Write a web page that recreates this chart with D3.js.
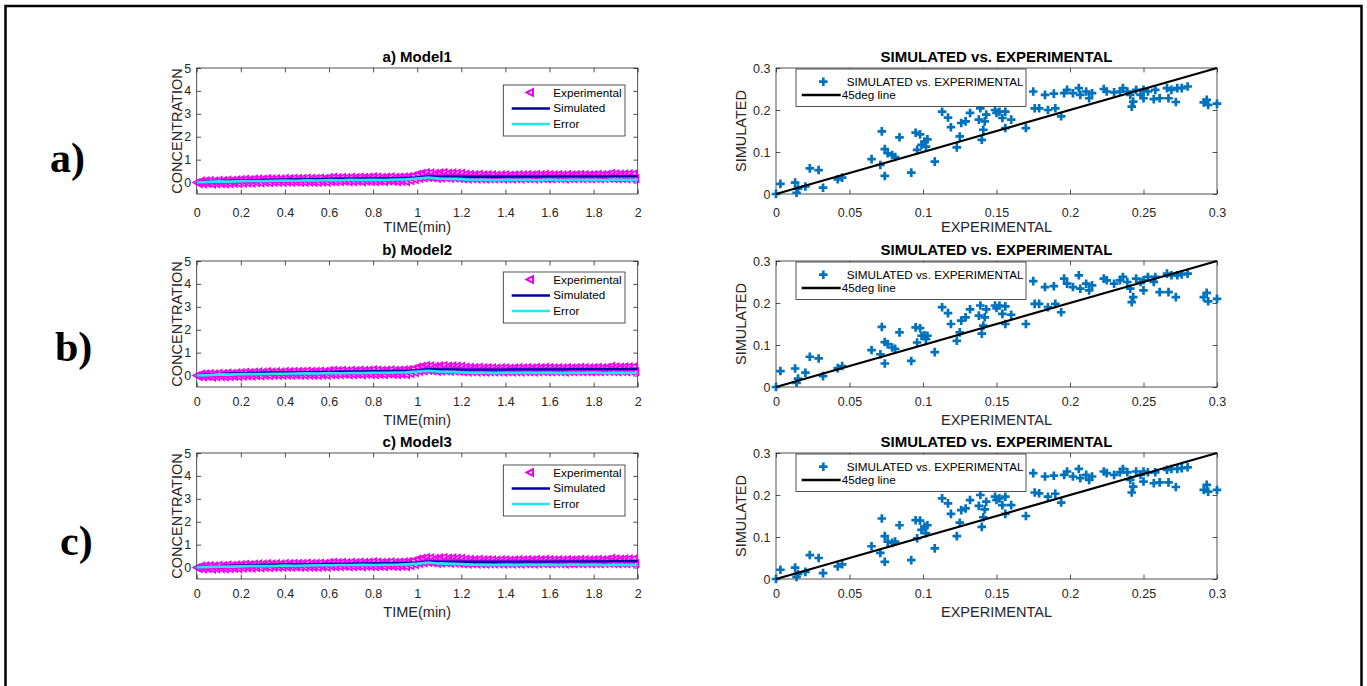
<!DOCTYPE html>
<html>
<head>
<meta charset="utf-8">
<script src="https://cdn.jsdelivr.net/npm/d3@7"></script>
<style>
  body { margin: 0; background: #fff; }
  svg text { font-family: "Liberation Sans", Arial, sans-serif; }
</style>
</head>
<body>
<div id="chart"></div>
<script>

/* DATA */

const modelTitles = ["a) Model1", "b) Model2", "c) Model3"];
const rowLetters = ["a)", "b)", "c)"];
const scatterTitle = "SIMULATED vs. EXPERIMENTAL";
const legendTime = ["Experimental", "Simulated", "Error"];
const legendScatter = ["SIMULATED vs. EXPERIMENTAL", "45deg line"];

const timeTicks = [0, 0.2, 0.4, 0.6, 0.8, 1, 1.2, 1.4, 1.6, 1.8, 2];
const concTicks = [0, 1, 2, 3, 4, 5];
const expTicks = [0, 0.05, 0.1, 0.15, 0.2, 0.25, 0.3];
const simTicks = [0, 0.1, 0.2, 0.3];

// experimental concentration, sampled every 0.01 min
const expTime = [
  0.00,0.01,0.02,0.03,0.04,0.05,0.06,0.07,0.08,0.09,0.10,0.11,0.12,0.13,0.14,0.15,0.16,0.17,0.18,0.19,
  0.20,0.21,0.22,0.23,0.24,0.25,0.26,0.27,0.28,0.29,0.30,0.31,0.32,0.33,0.34,0.35,0.36,0.37,0.38,0.39,
  0.40,0.41,0.42,0.43,0.44,0.45,0.46,0.47,0.48,0.49,0.50,0.51,0.52,0.53,0.54,0.55,0.56,0.57,0.58,0.59,
  0.60,0.61,0.62,0.63,0.64,0.65,0.66,0.67,0.68,0.69,0.70,0.71,0.72,0.73,0.74,0.75,0.76,0.77,0.78,0.79,
  0.80,0.81,0.82,0.83,0.84,0.85,0.86,0.87,0.88,0.89,0.90,0.91,0.92,0.93,0.94,0.95,0.96,0.97,0.98,0.99,
  1.00,1.01,1.02,1.03,1.04,1.05,1.06,1.07,1.08,1.09,1.10,1.11,1.12,1.13,1.14,1.15,1.16,1.17,1.18,1.19,
  1.20,1.21,1.22,1.23,1.24,1.25,1.26,1.27,1.28,1.29,1.30,1.31,1.32,1.33,1.34,1.35,1.36,1.37,1.38,1.39,
  1.40,1.41,1.42,1.43,1.44,1.45,1.46,1.47,1.48,1.49,1.50,1.51,1.52,1.53,1.54,1.55,1.56,1.57,1.58,1.59,
  1.60,1.61,1.62,1.63,1.64,1.65,1.66,1.67,1.68,1.69,1.70,1.71,1.72,1.73,1.74,1.75,1.76,1.77,1.78,1.79,
  1.80,1.81,1.82,1.83,1.84,1.85,1.86,1.87,1.88,1.89,1.90,1.91,1.92,1.93,1.94,1.95,1.96,1.97,1.98,1.99
];
const experimental = [
  0.00,-0.05,0.07,-0.06,0.08,-0.05,0.09,-0.07,0.08,-0.06,0.10,-0.05,0.09,-0.06,0.11,-0.05,0.10,-0.04,0.12,-0.05,
  0.13,-0.03,0.14,-0.02,0.13,-0.03,0.15,-0.01,0.16,-0.02,0.15,0.00,0.17,-0.01,0.16,0.01,0.17,0.00,0.16,0.01,
  0.18,0.02,0.17,0.01,0.19,0.02,0.18,0.00,0.19,0.01,0.20,0.02,0.18,0.01,0.19,0.00,0.20,0.02,0.19,0.01,
  0.22,0.04,0.23,0.03,0.22,0.04,0.23,0.05,0.22,0.03,0.23,0.04,0.22,0.05,0.24,0.03,0.23,0.05,0.24,0.04,
  0.25,0.04,0.24,0.05,0.23,0.04,0.24,0.06,0.25,0.05,0.23,0.04,0.24,0.05,0.25,0.04,0.26,0.08,0.29,0.12,
  0.36,0.18,0.40,0.20,0.44,0.22,0.42,0.20,0.40,0.18,0.42,0.19,0.44,0.20,0.41,0.18,0.42,0.19,0.41,0.18,
  0.40,0.16,0.37,0.15,0.36,0.16,0.35,0.15,0.36,0.16,0.34,0.15,0.35,0.16,0.34,0.15,0.33,0.16,0.34,0.15,
  0.34,0.16,0.33,0.15,0.34,0.16,0.35,0.15,0.34,0.17,0.35,0.16,0.34,0.15,0.36,0.16,0.35,0.17,0.36,0.16,
  0.35,0.16,0.34,0.17,0.35,0.16,0.34,0.15,0.35,0.17,0.34,0.16,0.35,0.17,0.36,0.16,0.35,0.17,0.34,0.16,
  0.35,0.17,0.36,0.16,0.35,0.17,0.36,0.18,0.40,0.17,0.38,0.16,0.37,0.17,0.38,0.16,0.38,0.18,0.37,0.17
];

// simulated and error curves, every 0.05 min
const simTime = [
  0,0.05,0.1,0.15,0.2,0.25,0.3,0.35,0.4,0.45,0.5,0.55,0.6,0.65,0.7,0.75,0.8,0.85,0.9,0.95,
  1,1.05,1.1,1.15,1.2,1.25,1.3,1.35,1.4,1.45,1.5,1.55,1.6,1.65,1.7,1.75,1.8,1.85,1.9,1.95,2
];
const simModel1 = [
  0.00,0.05,0.07,0.08,0.09,0.10,0.11,0.12,0.13,0.14,0.15,0.15,0.16,0.17,0.17,0.18,0.18,0.19,0.19,0.20,
  0.22,0.28,0.26,0.27,0.26,0.25,0.25,0.25,0.26,0.26,0.26,0.26,0.27,0.27,0.27,0.27,0.27,0.27,0.28,0.28,0.28
];
const simModel2 = [
  0.00,0.05,0.07,0.09,0.10,0.11,0.12,0.13,0.14,0.14,0.15,0.16,0.16,0.17,0.18,0.18,0.19,0.19,0.20,0.20,
  0.23,0.28,0.27,0.27,0.26,0.26,0.26,0.26,0.26,0.27,0.27,0.27,0.27,0.27,0.28,0.28,0.28,0.28,0.28,0.28,0.29
];
const simModel3 = [
  0.00,0.04,0.06,0.08,0.09,0.10,0.11,0.12,0.13,0.13,0.14,0.15,0.16,0.16,0.17,0.18,0.18,0.19,0.19,0.20,
  0.22,0.27,0.26,0.26,0.25,0.25,0.25,0.25,0.26,0.26,0.26,0.26,0.26,0.27,0.27,0.27,0.27,0.27,0.28,0.28,0.28
];
const errModel1 = [
  0.00,0.03,0.05,0.04,0.06,0.07,0.06,0.08,0.09,0.08,0.10,0.09,0.11,0.10,0.12,0.11,0.12,0.11,0.13,0.14,
  0.18,0.22,0.17,0.16,0.15,0.11,0.12,0.10,0.12,0.11,0.12,0.10,0.13,0.10,0.12,0.11,0.12,0.10,0.13,0.11,0.12
];
const errModel2 = [
  0.00,0.02,0.05,0.04,0.06,0.06,0.07,0.08,0.08,0.09,0.10,0.09,0.11,0.10,0.11,0.11,0.12,0.12,0.13,0.14,
  0.18,0.21,0.17,0.16,0.14,0.11,0.12,0.10,0.12,0.11,0.12,0.11,0.12,0.10,0.12,0.11,0.13,0.10,0.12,0.11,0.12
];
const errModel3 = [
  0.00,0.03,0.04,0.04,0.05,0.07,0.06,0.07,0.09,0.08,0.09,0.10,0.10,0.11,0.11,0.12,0.11,0.12,0.12,0.14,
  0.17,0.22,0.18,0.16,0.15,0.12,0.11,0.10,0.12,0.10,0.12,0.11,0.12,0.10,0.13,0.11,0.12,0.10,0.12,0.11,0.12
];

// scatter: experimental value (shared) vs simulated value per model
const scatterExp = [
  0.000,0.003,0.013,0.014,0.015,0.020,0.023,0.029,0.032,0.042,
  0.045,0.065,0.072,0.071,0.074,0.074,0.076,0.079,0.081,0.084,
  0.092,0.095,0.096,0.098,0.099,0.101,0.103,0.102,0.108,0.113,
  0.117,0.119,0.123,0.125,0.126,0.129,0.132,0.138,0.139,0.140,
  0.141,0.142,0.143,0.149,0.150,0.152,0.154,0.156,0.156,0.160,
  0.170,0.175,0.179,0.183,0.185,0.189,0.190,0.194,0.196,0.198,
  0.202,0.206,0.207,0.211,0.213,0.215,0.223,0.225,0.230,0.234,
  0.236,0.239,0.241,0.242,0.243,0.248,0.250,0.253,0.257,0.258,
  0.261,0.266,0.267,0.269,0.272,0.273,0.276,0.280,0.291,0.293,
  0.294,0.300,0.250,0.176,0.245
];
const scatterSim1 = [
  0.000,0.024,0.027,0.003,0.013,0.018,0.061,0.057,0.015,0.035,
  0.039,0.083,0.149,0.069,0.043,0.107,0.097,0.093,0.088,0.135,
  0.051,0.146,0.105,0.142,0.117,0.125,0.130,0.113,0.077,0.196,
  0.182,0.159,0.111,0.137,0.169,0.173,0.193,0.177,0.204,0.129,
  0.153,0.173,0.189,0.200,0.193,0.196,0.181,0.196,0.157,0.177,
  0.157,0.244,0.204,0.236,0.200,0.239,0.204,0.185,0.240,0.248,
  0.240,0.252,0.236,0.244,0.228,0.240,0.250,0.244,0.242,0.244,
  0.252,0.244,0.236,0.208,0.220,0.236,0.228,0.244,0.226,0.248,
  0.228,0.252,0.228,0.248,0.219,0.252,0.252,0.256,0.218,0.224,
  0.212,0.215,0.248,0.204,0.248
];
const scatterSim2 = [
  0.000,0.038,0.044,0.010,0.020,0.034,0.072,0.068,0.026,0.045,
  0.050,0.088,0.143,0.078,0.056,0.107,0.102,0.094,0.091,0.130,
  0.062,0.142,0.106,0.140,0.122,0.123,0.122,0.114,0.083,0.190,
  0.176,0.150,0.110,0.130,0.158,0.166,0.185,0.170,0.194,0.127,
  0.146,0.166,0.185,0.194,0.188,0.194,0.174,0.192,0.150,0.172,
  0.150,0.252,0.198,0.238,0.190,0.240,0.198,0.178,0.258,0.246,
  0.238,0.266,0.234,0.246,0.230,0.242,0.258,0.254,0.246,0.254,
  0.262,0.250,0.234,0.202,0.214,0.250,0.230,0.262,0.250,0.262,
  0.226,0.270,0.226,0.266,0.214,0.266,0.268,0.270,0.214,0.224,
  0.204,0.210,0.254,0.198,0.258
];
const scatterSim3 = [
  0.000,0.022,0.027,0.005,0.012,0.017,0.057,0.050,0.014,0.030,
  0.035,0.078,0.144,0.062,0.041,0.102,0.089,0.086,0.089,0.128,
  0.045,0.140,0.097,0.139,0.117,0.125,0.128,0.109,0.073,0.192,
  0.180,0.155,0.102,0.134,0.164,0.168,0.188,0.174,0.200,0.124,
  0.147,0.166,0.184,0.196,0.188,0.192,0.176,0.196,0.155,0.176,
  0.150,0.252,0.204,0.244,0.196,0.246,0.203,0.182,0.248,0.256,
  0.244,0.262,0.240,0.248,0.236,0.244,0.256,0.252,0.248,0.254,
  0.262,0.254,0.236,0.206,0.220,0.248,0.232,0.254,0.228,0.254,
  0.230,0.260,0.230,0.262,0.219,0.262,0.264,0.266,0.212,0.224,
  0.208,0.212,0.256,0.206,0.256
];
const diagLine = [0, 0.3];

const simModels = [simModel1, simModel2, simModel3];
const errModels = [errModel1, errModel2, errModel3];
const scatterSims = [scatterSim1, scatterSim2, scatterSim3];


/* LAYOUT */
const width = 1367;
const height = 686;
const leftX = 196.7;
const rightX = 776;
const panelW = 441;
const panelH = 126;
const tickLen = 4.4;
const axisColor = "#262626";
const tickFont = 12.5;
const labelFont = 14.5;
const titleFont = 15;
const legendFont = 11.7;

const rows = [
  { top: 68, tickGap: 19, legendTop: 85, letterX: 50, letterY: 172 },
  { top: 261, tickGap: 15, legendTop: 272, letterX: 55, letterY: 361 },
  { top: 453, tickGap: 14.5, legendTop: 465, letterX: 60, letterY: 555 }
];

const svg = d3.select("#chart")
  .append("svg")
  .attr("width", width)
  .attr("height", height)
  .style("background-color", "#fff");

// outer frame of the figure
svg.append("rect")
  .attr("x", 5.5)
  .attr("y", 6)
  .attr("width", 1356)
  .attr("height", 760)
  .attr("fill", "none")
  .attr("stroke", "#000")
  .attr("stroke-width", 2.5);

const triLeft = "M-3.4,0L3,-3.4L3,3.4Z";
const plusMark = "M-4.3,0H4.3M0,-4.3V4.3";

function styleAxis(sel) {
  sel.select(".domain").remove();
  sel.selectAll(".tick line").attr("stroke", axisColor).attr("stroke-width", 0.8);
  sel.selectAll(".tick text")
    .attr("fill", axisColor)
    .attr("font-size", tickFont)
    .attr("font-family", "Liberation Sans, Arial, sans-serif");
}

function drawFrame(g, x, y, xTicks, yTicks, tickGap) {
  const w = x.range()[1];
  const h = y.range()[0];

  g.append("g")
    .attr("transform", "translate(0," + h + ")")
    .call(d3.axisBottom(x).tickValues(xTicks).tickSizeInner(-tickLen).tickSizeOuter(0)
      .tickPadding(tickGap - 0.358 * tickFont).tickFormat(d => d))
    .call(styleAxis);

  g.append("g")
    .call(d3.axisTop(x).tickValues(xTicks).tickSizeInner(-tickLen).tickSizeOuter(0).tickFormat(""))
    .call(styleAxis);

  g.append("g")
    .call(d3.axisLeft(y).tickValues(yTicks).tickSizeInner(-tickLen).tickSizeOuter(0)
      .tickPadding(5.5).tickFormat(d => d))
    .call(styleAxis);

  g.append("g")
    .attr("transform", "translate(" + w + ",0)")
    .call(d3.axisRight(y).tickValues(yTicks).tickSizeInner(-tickLen).tickSizeOuter(0).tickFormat(""))
    .call(styleAxis);

  g.append("rect")
    .attr("width", w)
    .attr("height", h)
    .attr("fill", "none")
    .attr("stroke", axisColor)
    .attr("stroke-width", 0.8);
}

function addTitles(g, title, xLabel, yLabel, yLabelX) {
  g.append("text")
    .attr("x", panelW / 2)
    .attr("y", -11)
    .attr("dy", "0.35em")
    .attr("text-anchor", "middle")
    .attr("font-weight", "bold")
    .attr("font-size", titleFont)
    .attr("fill", "#000")
    .text(title);

  g.append("text")
    .attr("x", panelW / 2)
    .attr("y", panelH + 33)
    .attr("dy", "0.35em")
    .attr("text-anchor", "middle")
    .attr("font-size", labelFont)
    .attr("fill", axisColor)
    .text(xLabel);

  // rotated label, centre line at x = yLabelX
  g.append("text")
    .attr("transform", "translate(" + yLabelX + "," + (panelH / 2) + ") rotate(-90)")
    .attr("dy", "0.36em")
    .attr("text-anchor", "middle")
    .attr("font-size", labelFont)
    .attr("fill", axisColor)
    .text(yLabel);
}


/* PANELS */

rows.forEach((row, i) => {

  // row letter
  svg.append("text")
    .attr("x", row.letterX)
    .attr("y", row.letterY)
    .style("font-family", "'Liberation Serif', 'Times New Roman', serif")
    .attr("font-weight", "bold")
    .attr("font-size", 42)
    .text(rowLetters[i]);

  //TIME SERIES==============================================================
  const g1 = svg.append("g").attr("transform", "translate(" + leftX + "," + row.top + ")");

  const xTime = d3.scaleLinear().domain([0, 2]).range([0, panelW]);
  const yConc = d3.scaleLinear().domain([-0.5, 5]).range([panelH, 0]);

  drawFrame(g1, xTime, yConc, timeTicks, concTicks, row.tickGap);

  g1.selectAll(".exp")
    .data(expTime.map((t, j) => [t, experimental[j]]))
    .join("path")
    .attr("class", "exp")
    .attr("d", triLeft)
    .attr("transform", d => "translate(" + xTime(d[0]) + "," + yConc(d[1]) + ")")
    .attr("fill", "none")
    .attr("stroke", "#F000F0")
    .attr("stroke-width", 1.7);

  const timeLine = d3.line().x(d => xTime(d[0])).y(d => yConc(d[1]));

  g1.append("path")
    .datum(simTime.map((t, j) => [t, simModels[i][j]]))
    .attr("d", timeLine)
    .attr("fill", "none")
    .attr("stroke", "#0000A8")
    .attr("stroke-width", 2.4);

  g1.append("path")
    .datum(simTime.map((t, j) => [t, errModels[i][j]]))
    .attr("d", timeLine)
    .attr("fill", "none")
    .attr("stroke", "#22E6F2")
    .attr("stroke-width", 2.6);

  // legend
  const lg = g1.append("g").attr("transform", "translate(306.6," + (row.legendTop - row.top) + ")");
  lg.append("rect")
    .attr("width", 121.7)
    .attr("height", 51)
    .attr("fill", "#fff")
    .attr("stroke", axisColor)
    .attr("stroke-width", 0.8);
  lg.append("path")
    .attr("d", triLeft)
    .attr("transform", "translate(26.7,7.5)")
    .attr("fill", "none")
    .attr("stroke", "#F000F0")
    .attr("stroke-width", 2);
  lg.append("line").attr("x1", 8.4).attr("x2", 46.7).attr("y1", 23.5).attr("y2", 23.5)
    .attr("stroke", "#0000A8").attr("stroke-width", 2.4);
  lg.append("line").attr("x1", 8.4).attr("x2", 46.7).attr("y1", 39).attr("y2", 39)
    .attr("stroke", "#22E6F2").attr("stroke-width", 2.6);
  lg.selectAll(".lt")
    .data(legendTime)
    .join("text")
    .attr("class", "lt")
    .attr("x", 50)
    .attr("y", (d, j) => 7.5 + j * 15.75)
    .attr("dy", "0.35em")
    .attr("font-size", legendFont)
    .attr("fill", "#000")
    .text(d => d);

  addTitles(g1, modelTitles[i], "TIME(min)", "CONCENTRATION", -20);

  //SCATTER==================================================================
  const g2 = svg.append("g").attr("transform", "translate(" + rightX + "," + row.top + ")");

  const xExp = d3.scaleLinear().domain([0, 0.3]).range([0, panelW]);
  const ySim = d3.scaleLinear().domain([0, 0.3]).range([panelH, 0]);

  drawFrame(g2, xExp, ySim, expTicks, simTicks, row.tickGap);

  g2.selectAll(".pt")
    .data(scatterExp.map((e, j) => [e, scatterSims[i][j]]))
    .join("path")
    .attr("class", "pt")
    .attr("d", plusMark)
    .attr("transform", d => "translate(" + xExp(d[0]) + "," + ySim(d[1]) + ")")
    .attr("stroke", "#0072BD")
    .attr("stroke-width", 2.7);

  g2.append("line")
    .attr("x1", xExp(diagLine[0]))
    .attr("y1", ySim(diagLine[0]))
    .attr("x2", xExp(diagLine[1]))
    .attr("y2", ySim(diagLine[1]))
    .attr("stroke", "#000")
    .attr("stroke-width", 2.2);

  // legend
  const sg = g2.append("g").attr("transform", "translate(20,1)");
  sg.append("rect")
    .attr("width", 230)
    .attr("height", 37.5)
    .attr("fill", "#fff")
    .attr("stroke", axisColor)
    .attr("stroke-width", 0.8);
  sg.append("path")
    .attr("d", plusMark)
    .attr("transform", "translate(27.3,12.7)")
    .attr("stroke", "#0072BD")
    .attr("stroke-width", 2.7);
  sg.append("line").attr("x1", 5.7).attr("x2", 44.7).attr("y1", 26).attr("y2", 26)
    .attr("stroke", "#000").attr("stroke-width", 2.4);
  sg.append("text")
    .attr("x", 50.7).attr("y", 12.7).attr("dy", "0.35em")
    .attr("font-size", legendFont).attr("fill", "#000")
    .text(legendScatter[0]);
  sg.append("text")
    .attr("x", 45.7).attr("y", 26).attr("dy", "0.35em")
    .attr("font-size", legendFont).attr("fill", "#000")
    .text(legendScatter[1]);

  addTitles(g2, scatterTitle, "EXPERIMENTAL", "SIMULATED", -35);
});
</script>
</body>
</html>
